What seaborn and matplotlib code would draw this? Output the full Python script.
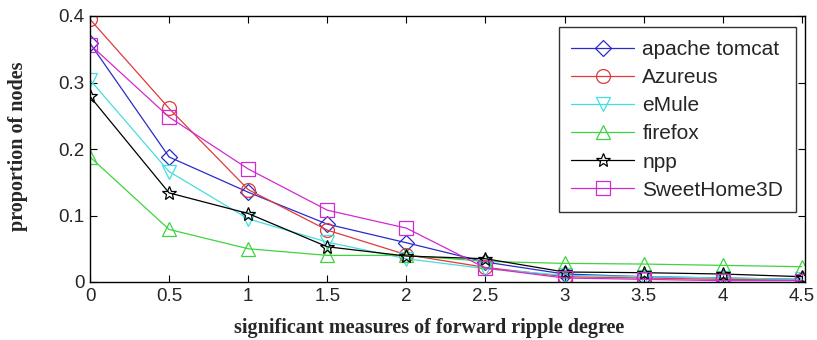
import numpy as np
import pandas as pd
import matplotlib
matplotlib.use("Agg")
import matplotlib.pyplot as plt
import seaborn as sns

x_values = [0, 0.5, 1, 1.5, 2, 2.5, 3, 3.5, 4, 4.5]
series_names = ["apache tomcat", "Azureus", "eMule", "firefox", "npp", "SweetHome3D"]
apache_tomcat = [0.359, 0.188, 0.135, 0.087, 0.059, 0.030, 0.012, 0.008, 0.006, 0.004]
azureus = [0.395, 0.261, 0.139, 0.078, 0.041, 0.022, 0.008, 0.006, 0.004, 0.003]
emule = [0.304, 0.166, 0.095, 0.060, 0.035, 0.020, 0.010, 0.008, 0.006, 0.004]
firefox = [0.188, 0.079, 0.050, 0.040, 0.040, 0.031, 0.028, 0.027, 0.025, 0.023]
npp = [0.279, 0.134, 0.103, 0.053, 0.039, 0.035, 0.015, 0.014, 0.012, 0.008]
sweethome3d = [0.357, 0.248, 0.170, 0.108, 0.081, 0.021, 0.006, 0.004, 0.002, 0.002]
x_ticks = [0, 0.5, 1, 1.5, 2, 2.5, 3, 3.5, 4, 4.5]
x_tick_labels = ["0", "0.5", "1", "1.5", "2", "2.5", "3", "3.5", "4", "4.5"]
y_ticks = [0, 0.1, 0.2, 0.3, 0.4]
y_tick_labels = ["0", "0.1", "0.2", "0.3", "0.4"]
x_label = "significant measures of forward ripple degree"
y_label = "proportion of nodes"

all_series = [apache_tomcat, azureus, emule, firefox, npp, sweethome3d]
rows = []
for name, vals in zip(series_names, all_series):
    for xv, yv in zip(x_values, vals):
        rows.append({"x": xv, "y": yv, "series": name})
df = pd.DataFrame(rows)

sns.set_style("white")
plt.rcParams["font.family"] = ["Liberation Sans", "DejaVu Sans"]

palette = {"apache tomcat": "#2b2bc8", "Azureus": "#e03a3a", "eMule": "#45dede",
           "firefox": "#3fd43f", "npp": "#000000", "SweetHome3D": "#d02ad0"}
markers = {"apache tomcat": "D", "Azureus": "o", "eMule": "v",
           "firefox": "^", "npp": "*", "SweetHome3D": "s"}
sizes_m = {"apache tomcat": 8, "Azureus": 10, "eMule": 10,
           "firefox": 10, "npp": 10, "SweetHome3D": 10}

fig = plt.figure(figsize=(8.17, 3.4), dpi=100)
ax = fig.add_axes([90/817, 1 - 282/340, (805-90)/817, (282-16)/340])

for name in series_names:
    sub = df[df["series"] == name]
    sns.lineplot(data=sub, x="x", y="y", ax=ax, color=palette[name], marker=markers[name],
                 markersize=sizes_m[name], markerfacecolor="none", markeredgecolor=palette[name],
                 markeredgewidth=0.9, linewidth=0.9, label=name, estimator=None)

ax.set_xlim(0, 4.52)
ax.set_ylim(0, 0.4)
ax.set_xticks(x_ticks)
ax.set_xticklabels(x_tick_labels)
ax.set_yticks(y_ticks)
ax.set_yticklabels(y_tick_labels)
ax.tick_params(direction="in", top=True, right=True, length=5, labelsize=13.5, pad=4,
               bottom=True, left=True, color="black")
for s in ax.spines.values():
    s.set_color("black")
    s.set_linewidth(1.0)

ax.set_xlabel(x_label, family="Liberation Serif", fontweight="bold", fontsize=14.5, labelpad=10)
ax.set_ylabel(y_label, family="Liberation Serif", fontweight="bold", fontsize=14.5, labelpad=22)
ax.xaxis.label.set_x(0.474)
ax.yaxis.label.set_y(0.511)

leg = ax.legend(loc="upper right", bbox_to_anchor=(0.987, 0.957), fontsize=15, frameon=True,
                fancybox=False, edgecolor="black", handlelength=3.0, labelspacing=0.44,
                borderpad=0.6, handletextpad=0.4, borderaxespad=0.0)
leg.get_frame().set_linewidth(1.0)

fig.savefig("out.png", dpi=100)
